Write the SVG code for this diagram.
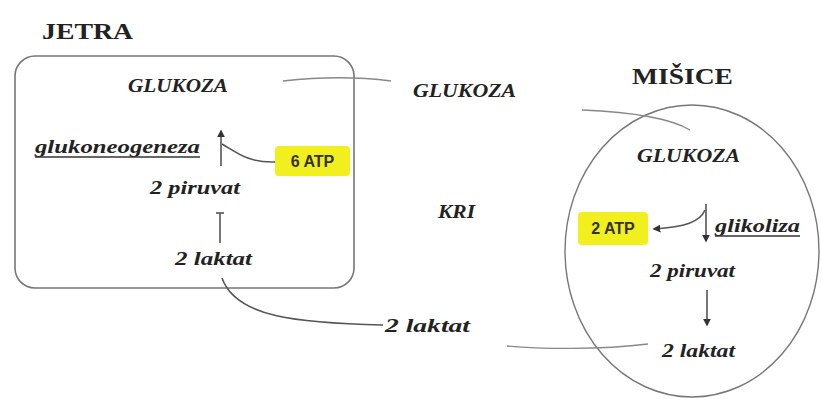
<svg xmlns="http://www.w3.org/2000/svg" width="822" height="399" viewBox="0 0 822 399">
<style>
.t{font-family:"Liberation Serif","Times New Roman",serif;font-weight:bold;font-style:italic;font-size:18px;fill:#222}
.h{font-family:"Liberation Serif","Times New Roman",serif;font-weight:bold;font-size:23px;fill:#222}
.a{font-family:"Liberation Sans",Arial,sans-serif;font-weight:bold;font-size:16px;fill:#333}
.box{fill:#f2ef1e}
.c{fill:none;stroke:#555;stroke-width:1.6}
.g{fill:none;stroke:#888;stroke-width:1.4}
.u{stroke:#333;stroke-width:1.3}
</style>
<defs>
<marker id="ah" viewBox="0 0 10 10" refX="8" refY="5" markerWidth="5" markerHeight="5" orient="auto-start-reverse">
<path d="M0 0 L10 5 L0 10 z" fill="#333"/>
</marker>
</defs>
<rect width="822" height="399" fill="#fff"/>
<g id="jetra">
<rect x="15" y="56" width="339" height="232" rx="20" fill="none" stroke="#777" stroke-width="1.6"/>
<text class="h" x="42" y="39" textLength="91" lengthAdjust="spacingAndGlyphs">JETRA</text>
</g>
<g id="misice">
<ellipse cx="692" cy="251" rx="127" ry="146" fill="none" stroke="#777" stroke-width="1.4"/>
<text class="h" x="632" y="84" textLength="101" lengthAdjust="spacingAndGlyphs">MIŠICE</text>
</g>
<g id="glukoza-jetra"><text class="t" x="128" y="92" textLength="100" lengthAdjust="spacingAndGlyphs">GLUKOZA</text></g>
<g id="glukoneogeneza"><text class="t" x="35" y="153" textLength="165" lengthAdjust="spacingAndGlyphs">glukoneogeneza</text><line class="u" x1="35" y1="157" x2="200" y2="157"/></g>
<g id="atp6"><rect class="box" x="275" y="146" width="75" height="30" rx="4"/><text class="a" x="312.5" y="167" text-anchor="middle">6 ATP</text></g>
<g id="piruvat-jetra"><text class="t" x="150" y="194" textLength="90" lengthAdjust="spacingAndGlyphs">2 piruvat</text></g>
<g id="laktat-jetra"><text class="t" x="175" y="265" textLength="77" lengthAdjust="spacingAndGlyphs">2 laktat</text></g>
<g id="glukoza-kri"><text class="t" x="413" y="97" textLength="103" lengthAdjust="spacingAndGlyphs">GLUKOZA</text></g>
<g id="kri"><text class="t" x="438" y="218" textLength="37" lengthAdjust="spacingAndGlyphs">KRI</text></g>
<g id="laktat-kri"><text class="t" x="385" y="332" textLength="85" lengthAdjust="spacingAndGlyphs">2 laktat</text></g>
<g id="glukoza-misice"><text class="t" x="637" y="162" textLength="103" lengthAdjust="spacingAndGlyphs">GLUKOZA</text></g>
<g id="atp2"><rect class="box" x="578" y="212" width="70" height="33" rx="4"/><text class="a" x="613" y="234" text-anchor="middle">2 ATP</text></g>
<g id="glikoliza"><text class="t" x="715" y="232" textLength="85" lengthAdjust="spacingAndGlyphs">glikoliza</text><line class="u" x1="715" y1="236" x2="800" y2="236"/></g>
<g id="piruvat-misice"><text class="t" x="650" y="277" textLength="85" lengthAdjust="spacingAndGlyphs">2 piruvat</text></g>
<g id="laktat-misice"><text class="t" x="662" y="357" textLength="73" lengthAdjust="spacingAndGlyphs">2 laktat</text></g>
<g id="connectors">
<line class="c" x1="221" y1="166" x2="221" y2="131" marker-end="url(#ah)"/>
<path class="c" d="M275 162 C248 163 236 152 222 144"/>
<line class="c" x1="220" y1="243" x2="220" y2="213"/>
<line class="c" x1="216" y1="213" x2="224" y2="213"/>
<path class="c" d="M222 278 C236 318 300 323 383 325"/>
<path class="g" d="M283 81 C320 77 360 77 391 81"/>
<path class="g" d="M582 110 C630 112 670 118 690 130"/>
<line class="c" x1="706" y1="204" x2="706" y2="241" marker-end="url(#ah)"/>
<path class="c" d="M705 210 C700 222 685 227 654 229" marker-end="url(#ah)"/>
<line class="c" x1="707" y1="290" x2="707" y2="325" marker-end="url(#ah)"/>
<path class="g" d="M648 344 C600 350 540 349 507 346"/>
</g>
</svg>
